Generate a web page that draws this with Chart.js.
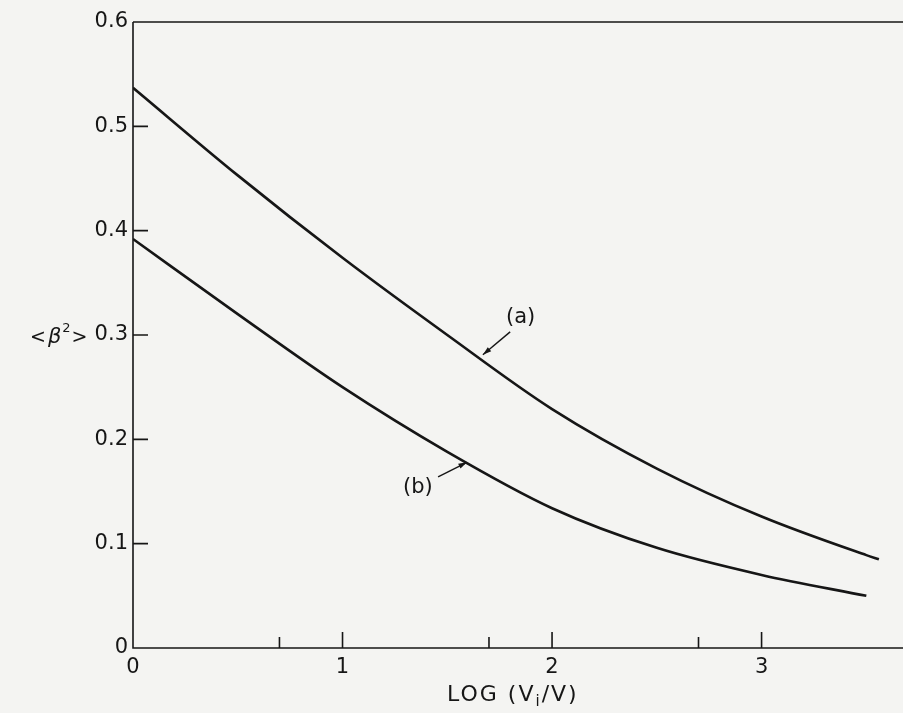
<!DOCTYPE html>
<html>
<head>
<meta charset="utf-8">
<script src="https://cdn.jsdelivr.net/npm/chart.js@4.4.1/dist/chart.umd.min.js"></script>
<style>
  html, body { margin: 0; padding: 0; background: #f4f4f2; }
  #wrap { width: 903px; height: 713px; }
</style>
</head>
<body>
<div id="wrap"><canvas id="chart"></canvas></div>
<script>
// Données : <beta^2> en fonction de log(Vi/V)
const xA = [0, 0.5, 1, 1.5, 2, 2.5, 3, 3.5, 3.56];
const curveA = [0.537, 0.453, 0.374, 0.300, 0.229, 0.172, 0.126, 0.089, 0.085];
const xB = [0, 0.5, 1, 1.5, 2, 2.5, 3, 3.5];
const curveB = [0.392, 0.320, 0.250, 0.188, 0.134, 0.096, 0.070, 0.050];

const xTicks = [0, 1, 2, 3];
const xMinorTicks = [0.699, 1.699, 2.699];
const yTicks = [0, 0.1, 0.2, 0.3, 0.4, 0.5, 0.6];
const yTickLabels = ['0', '0.1', '0.2', '0.3', '0.4', '0.5', '0.6'];

// Étiquettes (a), (b) avec leurs flèches
const curveLabels = [
    { text: '(a)', at: [1.85, 0.317], from: [1.80, 0.303], to: [1.67, 0.281] },
    { text: '(b)', at: [1.36, 0.154], from: [1.456, 0.164], to: [1.594, 0.178] }
];

const FONT = '"DejaVu Sans", sans-serif';
const INK = '#161616';

const toPts = (xs, ys) => xs.map((x, i) => ({ x: x, y: ys[i] }));

// Cadre, graduations intérieures, flèches et titres
const framePlugin = {
    id: 'frame',
    afterDraw(chart) {
        const ctx = chart.ctx;
        const a = chart.chartArea;
        const sx = chart.scales.x, sy = chart.scales.y;
        ctx.save();
        ctx.strokeStyle = INK;
        ctx.lineWidth = 1.6;
        ctx.beginPath();
        ctx.moveTo(a.left, a.top); ctx.lineTo(a.right, a.top);
        ctx.moveTo(a.left, a.top); ctx.lineTo(a.left, a.bottom);
        ctx.lineTo(a.right, a.bottom);
        ctx.stroke();

        // graduations
        ctx.beginPath();
        yTicks.forEach(v => {
            if (v === 0 || v === 0.6) return;
            const py = sy.getPixelForValue(v);
            ctx.moveTo(a.left, py); ctx.lineTo(a.left + 15, py);
        });
        xTicks.forEach(v => {
            if (v === 0) return;
            const px = sx.getPixelForValue(v);
            ctx.moveTo(px, a.bottom); ctx.lineTo(px, a.bottom - 16);
        });
        xMinorTicks.forEach(v => {
            const px = sx.getPixelForValue(v);
            ctx.moveTo(px, a.bottom); ctx.lineTo(px, a.bottom - 11);
        });
        ctx.stroke();

        // étiquettes des courbes
        ctx.fillStyle = INK;
        ctx.font = '21px ' + FONT;
        ctx.textAlign = 'center';
        ctx.textBaseline = 'middle';
        curveLabels.forEach(l => {
            ctx.fillText(l.text, sx.getPixelForValue(l.at[0]), sy.getPixelForValue(l.at[1]));
            const x1 = sx.getPixelForValue(l.from[0]), y1 = sy.getPixelForValue(l.from[1]);
            const x2 = sx.getPixelForValue(l.to[0]), y2 = sy.getPixelForValue(l.to[1]);
            ctx.lineWidth = 1.4;
            ctx.beginPath(); ctx.moveTo(x1, y1); ctx.lineTo(x2, y2); ctx.stroke();
            const ang = Math.atan2(y2 - y1, x2 - x1);
            ctx.beginPath();
            ctx.moveTo(x2, y2);
            ctx.lineTo(x2 - 9 * Math.cos(ang - 0.3), y2 - 9 * Math.sin(ang - 0.3));
            ctx.lineTo(x2 - 9 * Math.cos(ang + 0.3), y2 - 9 * Math.sin(ang + 0.3));
            ctx.closePath(); ctx.fill();
        });

        // titre axe y : <β²>
        ctx.textAlign = 'left';
        ctx.textBaseline = 'alphabetic';
        const ty = sy.getPixelForValue(0.3) + 8;
        let tx = 30;
        ctx.font = '19px ' + FONT;
        ctx.fillText('<', tx, ty); tx += ctx.measureText('<').width + 2;
        ctx.font = 'italic 21px ' + FONT;
        ctx.fillText('β', tx, ty); tx += ctx.measureText('β').width + 1;
        ctx.font = '13px ' + FONT;
        ctx.fillText('2', tx, ty - 11); tx += ctx.measureText('2').width + 1;
        ctx.font = '19px ' + FONT;
        ctx.fillText('>', tx, ty);

        // titre axe x : LOG (Vi/V)
        ctx.letterSpacing = '2px';
        const left = 447;
        const by = a.bottom + 53;
        const parts = [['LOG (V', '22px'], ['i', '15px', 5], ['/V)', '22px']];
        tx = left;
        parts.forEach(p => {
            ctx.font = p[1] + ' ' + FONT;
            ctx.fillText(p[0], tx, by + (p[2] || 0));
            tx += ctx.measureText(p[0]).width;
        });
        ctx.restore();
    }
};

const lineStyle = {
    borderColor: INK,
    borderWidth: 2.6,
    pointRadius: 0,
    fill: false,
    cubicInterpolationMode: 'monotone'
};

new Chart(document.getElementById('chart'), {
    type: 'line',
    data: {
        datasets: [
            { label: '(a)', data: toPts(xA, curveA), ...lineStyle },
            { label: '(b)', data: toPts(xB, curveB), ...lineStyle }
        ]
    },
    options: {
        responsive: true,
        maintainAspectRatio: false,
        animation: false,
        layout: { padding: { top: 22, right: 0, left: 0, bottom: 0 } },
        plugins: { legend: { display: false }, tooltip: { enabled: false } },
        scales: {
            x: {
                type: 'linear',
                min: 0,
                max: 3.675,
                grid: { display: false, drawTicks: false },
                border: { display: false },
                afterBuildTicks: s => { s.ticks = xTicks.map(v => ({ value: v })); },
                afterFit: s => { s.height = 65; },
                ticks: {
                    color: INK,
                    padding: 7,
                    font: { family: FONT, size: 21 },
                    callback: v => String(v)
                }
            },
            y: {
                type: 'linear',
                min: 0,
                max: 0.6,
                grid: { display: false, drawTicks: false },
                border: { display: false },
                afterBuildTicks: s => { s.ticks = yTicks.map(v => ({ value: v })); },
                afterFit: s => { s.width = 133; },
                ticks: {
                    color: INK,
                    padding: 5,
                    font: { family: FONT, size: 21 },
                    callback: (v) => yTickLabels[yTicks.indexOf(v)] || ''
                }
            }
        }
    },
    plugins: [framePlugin]
});
</script>
</body>
</html>
